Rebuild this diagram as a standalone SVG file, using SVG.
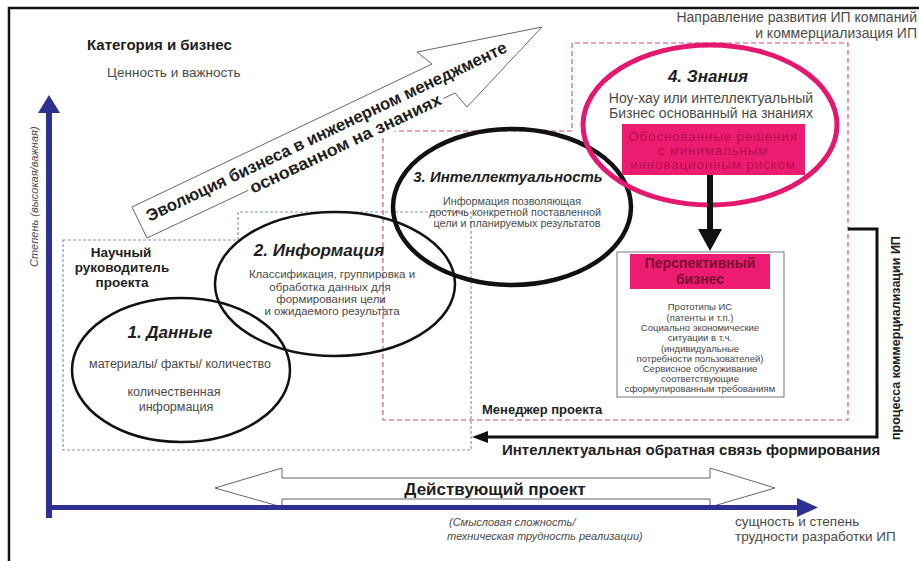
<svg xmlns="http://www.w3.org/2000/svg" width="919" height="561" viewBox="0 0 919 561">
<defs>
<style>
text{font-family:"Liberation Sans",Arial,sans-serif}
.b{font-weight:bold;fill:#1e1e1e}
.bi{font-weight:bold;font-style:italic;fill:#1e1e1e;font-size:17px;text-anchor:middle}
.g{fill:#4a4a4a}
.c{text-anchor:middle}
.ring{fill:none;stroke:#111}
.dotb{fill:none;stroke:#8a96b8;stroke-width:1.2;stroke-dasharray:3 2}
.dashp{fill:none;stroke:#d2477f;stroke-width:1.1;stroke-dasharray:5 3}
.hollow{fill:#fff;stroke:#666;stroke-width:1}
.axis{fill:#2e3192}
.pinkfill{fill:#ec1c70}
.small{font-size:9.5px;fill:#444;text-anchor:middle}
</style>
<marker id="ahL" markerUnits="userSpaceOnUse" markerWidth="16" markerHeight="12" refX="2" refY="6" orient="auto">
<path d="M0,0 L16,6 L0,12 z" fill="#111"/>
</marker>
<marker id="ahD" markerUnits="userSpaceOnUse" markerWidth="22" markerHeight="24" refX="5" refY="12" orient="auto">
<path d="M0,0 L22,12 L0,24 z" fill="#111"/>
</marker>
</defs>
<rect width="919" height="561" fill="#fff"/>
<!-- frame -->
<g id="frame">
<path d="M9,561 V8 H919" fill="none" stroke="#111" stroke-width="2.5"/>
</g>
<!-- headings -->
<g id="headings">
<text x="87" y="50" class="b" font-size="15">Категория и бизнес</text>
<text x="107" y="77" class="g" font-size="13.5">Ценность и важность</text>
<text x="917" y="22" class="g" font-size="14" text-anchor="end">Направление развития ИП компаний</text>
<text x="917" y="38" class="g" font-size="14" text-anchor="end">и коммерциализация ИП</text>
</g>
<!-- zones -->
<g id="zone-supervisor">
<path class="dotb" d="M63,240 H238 V212 H471 V450 H63 Z"/>
<text class="b c" font-size="13.5" x="121" y="257">Научный</text>
<text class="b c" font-size="13.5" x="122" y="272">руководитель</text>
<text class="b c" font-size="13.5" x="122" y="287">проекта</text>
</g>
<g id="zone-manager">
<path class="dashp" d="M383,131 H572 V43 H848 V420 H383 Z"/>
<text class="b" font-size="13" x="482" y="414">Менеджер проекта</text>
</g>
<!-- evolution arrow -->
<g id="evolution-arrow">
<polygon class="hollow" points="132,207 432,64 417,52 542,27 467,107 455,93 147,238"/>
<g transform="translate(132,207) rotate(-25.4)">
<rect x="112" y="28" width="216" height="16" fill="#fff"/>
<text class="b c" font-size="17" x="208" y="21" textLength="397" lengthAdjust="spacingAndGlyphs">Эволюция бизнеса в инженерном менеджменте</text>
<text class="b c" font-size="17" x="220" y="40" textLength="210" lengthAdjust="spacingAndGlyphs">основанном на знаниях</text>
</g>
</g>
<!-- nodes -->
<g id="n1-data">
<ellipse class="ring" stroke-width="2.5" cx="181" cy="370" rx="109" ry="72"/>
<text class="bi" x="170" y="338">1. Данные</text>
<text class="g c" font-size="12.5" x="180" y="368">материалы/ факты/ количество</text>
<text class="g c" font-size="12.5" x="174" y="396">количественная</text>
<text class="g c" font-size="12.5" x="176" y="411">информация</text>
</g>
<g id="n2-information">
<ellipse class="ring" stroke-width="2.5" cx="335" cy="284" rx="120" ry="72"/>
<text class="bi" x="319" y="256">2. Информация</text>
<text class="g c" font-size="11.5" x="332" y="278">Классификация, группировка и</text>
<text class="g c" font-size="11.5" x="330" y="291">обработка данных для</text>
<text class="g c" font-size="11.5" x="331" y="303">формирования цели</text>
<text class="g c" font-size="11.5" x="332" y="315">и ожидаемого результата</text>
</g>
<g id="n3-intellect">
<ellipse class="ring" stroke-width="4.5" cx="512" cy="207" rx="119" ry="78"/>
<text class="bi" style="font-size:15px" x="508" y="182">3. Интеллектуальность</text>
<text class="g c" font-size="10.8" x="512" y="205">Информация позволяющая</text>
<text class="g c" font-size="10.8" x="515" y="216">достичь конкретной поставленной</text>
<text class="g c" font-size="10.8" x="517" y="227">цели и планируемых результатов</text>
</g>
<g id="n4-knowledge">
<ellipse fill="none" stroke="#e5186f" stroke-width="5" cx="710" cy="125" rx="127" ry="80"/>
<text class="bi" x="708" y="82">4. Знания</text>
<text class="g c" font-size="14" x="711" y="103">Ноу-хау или интеллектуальный</text>
<text class="g c" font-size="14" x="711" y="118">Бизнес основанный на знаниях</text>
<rect class="pinkfill" x="622" y="124" width="183" height="51"/>
<text class="c" font-size="13.5" letter-spacing="0.8" fill="#b8104f" x="713" y="141">Обоснованные решения</text>
<text class="c" font-size="13.5" letter-spacing="0.8" fill="#b8104f" x="713" y="155">с минимальным</text>
<text class="c" font-size="13.5" letter-spacing="0.8" fill="#b8104f" x="713" y="169">инновационным риском</text>
</g>
<g id="n5-perspective">
<rect x="617" y="252" width="167" height="145" fill="#fff" stroke="#777" stroke-width="1"/>
<rect class="pinkfill" x="630" y="254" width="140" height="35"/>
<text class="c" font-size="14" font-weight="bold" fill="#7d1030" x="700" y="268">Перспективный</text>
<text class="c" font-size="14" font-weight="bold" fill="#7d1030" x="700" y="284">бизнес</text>
<text class="small" x="700" y="310">Прототипы ИС</text>
<text class="small" x="700" y="321">(патенты и т.п.)</text>
<text class="small" x="700" y="331">Социально экономические</text>
<text class="small" x="700" y="341">ситуации в т.ч.</text>
<text class="small" x="700" y="352">(индивидуальные</text>
<text class="small" x="700" y="362">потребности пользователей)</text>
<text class="small" x="700" y="372">Сервисное обслуживание</text>
<text class="small" x="700" y="382">соответствующие</text>
<text class="small" x="700" y="392">сформулированным требованиям</text>
</g>
<!-- connectors -->
<g id="connectors">
<path d="M710,175 V234" fill="none" stroke="#111" stroke-width="6" marker-end="url(#ahD)"/>
<path d="M848,229 H877 V437 H486" fill="none" stroke="#111" stroke-width="3" marker-end="url(#ahL)"/>
<text class="b" font-size="15" x="502" y="455">Интеллектуальная обратная связь формирования</text>
<text class="b" font-size="12.5" transform="translate(900,440) rotate(-90)">процесса коммерциализации ИП</text>
</g>
<!-- project arrow -->
<g id="project-arrow">
<polygon class="hollow" points="215,488 282,468 282,478 710,478 710,468 775,488 710,507 710,499 282,499 282,507"/>
<text class="b c" font-size="17" x="495" y="495">Действующий проект</text>
</g>
<!-- axes -->
<g id="axes">
<rect class="axis" x="46" y="110" width="6" height="408"/>
<polygon class="axis" points="49,95 60,113 38,113"/>
<rect class="axis" x="46" y="505" width="753" height="5"/>
<polygon class="axis" points="797,498 818,507.5 797,517"/>
<text class="g" font-size="11" font-style="italic" transform="translate(38,267) rotate(-90)">Степень (высокая/важная)</text>
<text class="g" font-size="11" font-style="italic" x="449" y="526">(Смысловая сложность/</text>
<text class="g" font-size="11" font-style="italic" x="447" y="540">техническая трудность реализации)</text>
<text class="g" font-size="13.5" x="735" y="526">сущность и степень</text>
<text class="g" font-size="13.5" x="735" y="541">трудности разработки ИП</text>
</g>
</svg>
